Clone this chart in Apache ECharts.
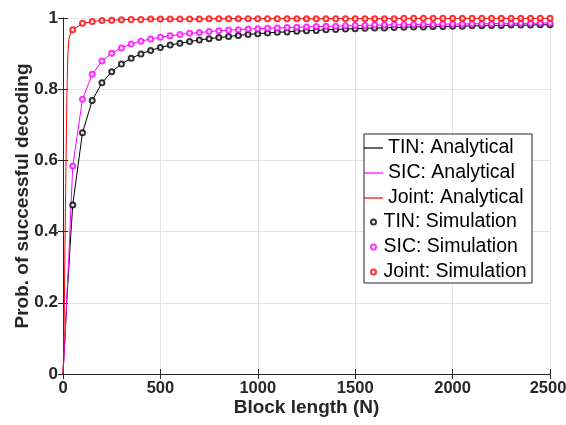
<!DOCTYPE html>
<html>
<head>
<meta charset="utf-8">
<script src="https://cdn.jsdelivr.net/npm/echarts@6/dist/echarts.min.js"></script>
<style>
html, body { margin: 0; padding: 0; background: #fff; }
#chart { width: 566px; height: 425px; }
</style>
</head>
<body>
<div id="chart"></div>
<script>
// block lengths of the simulation points
var simN = [50, 100, 150, 200, 250, 300, 350, 400, 450, 500,
	550, 600, 650, 700, 750, 800, 850, 900, 950, 1000,
	1050, 1100, 1150, 1200, 1250, 1300, 1350, 1400, 1450, 1500,
	1550, 1600, 1650, 1700, 1750, 1800, 1850, 1900, 1950, 2000,
	2050, 2100, 2150, 2200, 2250, 2300, 2350, 2400, 2450, 2500];
var tinSim = [0.475, 0.678, 0.768, 0.818, 0.849, 0.871, 0.887, 0.899, 0.909, 0.917,
	0.924, 0.929, 0.934, 0.938, 0.942, 0.945, 0.948, 0.951, 0.954, 0.956,
	0.958, 0.960, 0.961, 0.963, 0.964, 0.965, 0.967, 0.968, 0.969, 0.970,
	0.971, 0.972, 0.972, 0.973, 0.974, 0.975, 0.975, 0.976, 0.976, 0.977,
	0.977, 0.978, 0.978, 0.979, 0.979, 0.980, 0.980, 0.980, 0.981, 0.981];
var sicSim = [0.584, 0.772, 0.842, 0.879, 0.901, 0.916, 0.927, 0.935, 0.941, 0.946,
	0.950, 0.954, 0.957, 0.959, 0.962, 0.964, 0.966, 0.967, 0.969, 0.970,
	0.971, 0.972, 0.973, 0.974, 0.975, 0.976, 0.977, 0.977, 0.978, 0.979,
	0.979, 0.980, 0.980, 0.981, 0.981, 0.982, 0.982, 0.982, 0.983, 0.983,
	0.983, 0.984, 0.984, 0.984, 0.985, 0.985, 0.985, 0.985, 0.986, 0.986];
var jointSim = [0.967, 0.985, 0.990, 0.993, 0.994, 0.995, 0.996, 0.996, 0.997, 0.997,
	0.997, 0.997, 0.997, 0.997, 0.998, 0.998, 0.998, 0.998, 0.998, 0.998,
	0.998, 0.998, 0.998, 0.998, 0.998, 0.998, 0.998, 0.998, 0.998, 0.998,
	0.998, 0.998, 0.998, 0.998, 0.999, 0.999, 0.999, 0.999, 0.999, 0.999,
	0.999, 0.999, 0.999, 0.999, 0.999, 0.999, 0.999, 0.999, 0.999, 0.999];
// extra analytical points near the origin
var headN = [0, 5, 10, 15, 20, 25, 30, 40];
var tinHead = [0, 0.05, 0.10, 0.155, 0.21, 0.255, 0.30, 0.39];
var sicHead = [0, 0.05, 0.10, 0.16, 0.22, 0.275, 0.33, 0.46];
var jointHead = [0, 0.10, 0.35, 0.58, 0.78, 0.90, 0.94, 0.96];

var xTicks = [0, 500, 1000, 1500, 2000, 2500];
var yTicks = [0, 0.2, 0.4, 0.6, 0.8, 1];

var FONT = 'Liberation Sans, Arial, Helvetica, sans-serif';
var AXIS_COLOR = '#262626';
var LINE_ICON = 'path://M0,0H19V1.2H0Z';

function pairs(xs, ys) {
	var out = [];
	for (var i = 0; i < xs.length; i++) {
		out.push([xs[i], ys[i]]);
	}
	return out;
}
function analytical(head, sim) {
	return pairs(headN, head).concat(pairs(simN, sim));
}

var myChart = echarts.init(document.getElementById('chart'), null, { renderer: 'canvas' });

var lineSeries = function(name, color, data) {
	return {
		name: name,
		type: 'line',
		data: data,
		symbol: 'none',
		lineStyle: { color: color, width: 1 },
		itemStyle: { color: color },
		animation: false,
		z: 2
	};
};
var simSeries = function(name, color, data) {
	return {
		name: name,
		type: 'scatter',
		data: data,
		symbol: 'emptyCircle',
		symbolSize: 5,
		itemStyle: { color: color, borderColor: color, borderWidth: 1 },
		animation: false,
		z: 3
	};
};

var axisLine = { show: true, lineStyle: { color: AXIS_COLOR, width: 1 } };
var axisTick = { show: true, inside: true, length: 5, lineStyle: { color: AXIS_COLOR } };
var nameStyle = { fontFamily: FONT, fontSize: 19, fontWeight: 'bold', color: AXIS_COLOR };
var legendText = { fontFamily: FONT, fontSize: 19.5, color: '#000', lineHeight: 20 };

var option = {
	backgroundColor: '#ffffff',
	animation: false,
	grid: {
		left: 63,
		right: 16,
		top: 18,
		bottom: 51,
		show: false,
		containLabel: false,
		outerBoundsMode: 'none'
	},
	graphic: [{
		type: 'rect',
		shape: { x: 364, y: 134, width: 168, height: 149 },
		style: { fill: '#ffffff', stroke: AXIS_COLOR, lineWidth: 1 },
		z: 3
	}],
	legend: [{
		orient: 'vertical',
		left: 364,
		top: 138,
		itemWidth: 19,
		itemHeight: 10,
		itemGap: 5,
		selectedMode: false,
		padding: 0,
		textStyle: legendText,
		data: [
			{ name: 'TIN: Analytical', icon: LINE_ICON },
			{ name: 'SIC: Analytical', icon: LINE_ICON },
			{ name: 'Joint: Analytical', icon: LINE_ICON }
		],
		z: 5
	}, {
		orient: 'vertical',
		left: 370,
		top: 212,
		itemWidth: 10,
		itemHeight: 5,
		itemGap: 5,
		selectedMode: false,
		padding: 0,
		icon: 'emptyCircle',
		textStyle: legendText,
		data: ['TIN: Simulation', 'SIC: Simulation', 'Joint: Simulation'],
		z: 5
	}],
	xAxis: [{
		type: 'value',
		min: xTicks[0],
		max: xTicks[xTicks.length - 1],
		interval: 500,
		name: 'Block length (N)',
		nameLocation: 'middle',
		nameGap: 24,
		nameMoveOverlap: false,
		nameTextStyle: nameStyle,
		axisLine: axisLine,
		axisTick: axisTick,
		axisLabel: {
			fontFamily: FONT, fontSize: 16.5, fontWeight: 'bold', color: AXIS_COLOR, margin: 6,
			formatter: function(v) {
				// keep the last label inside the canvas
				if (v === xTicks[xTicks.length - 1]) {
					return '{e|' + v + '}';
				}
				return String(v);
			},
			rich: {
				e: { fontFamily: FONT, fontSize: 16.5, fontWeight: 'bold', color: AXIS_COLOR, padding: [0, 4, 0, 0] }
			}
		},
		splitLine: { show: true, lineStyle: { color: '#e3e3e3', width: 1 } }
	}, {
		type: 'value',
		position: 'top',
		min: xTicks[0],
		max: xTicks[xTicks.length - 1],
		interval: 500,
		axisLine: axisLine,
		axisTick: axisTick,
		axisLabel: { show: false },
		splitLine: { show: false }
	}],
	yAxis: [{
		type: 'value',
		min: yTicks[0],
		max: yTicks[yTicks.length - 1],
		interval: 0.2,
		name: 'Prob. of successful decoding',
		nameLocation: 'middle',
		nameGap: 31,
		nameMoveOverlap: false,
		nameTextStyle: nameStyle,
		axisLine: axisLine,
		axisTick: axisTick,
		axisLabel: {
			fontFamily: FONT, fontSize: 17, fontWeight: 'bold', color: AXIS_COLOR, margin: 5,
			formatter: function(v) { return String(v); }
		},
		splitLine: { show: true, lineStyle: { color: '#e3e3e3', width: 1 } }
	}, {
		type: 'value',
		position: 'right',
		min: yTicks[0],
		max: yTicks[yTicks.length - 1],
		interval: 0.2,
		axisLine: axisLine,
		axisTick: axisTick,
		axisLabel: { show: false },
		splitLine: { show: false }
	}],
	series: [
		lineSeries('TIN: Analytical', '#000000', analytical(tinHead, tinSim)),
		lineSeries('SIC: Analytical', '#ff00ff', analytical(sicHead, sicSim)),
		lineSeries('Joint: Analytical', '#ff0000', analytical(jointHead, jointSim)),
		simSeries('TIN: Simulation', '#000000', pairs(simN, tinSim)),
		simSeries('SIC: Simulation', '#ff00ff', pairs(simN, sicSim)),
		simSeries('Joint: Simulation', '#ff0000', pairs(simN, jointSim))
	]
};
myChart.setOption(option);
window.onresize = myChart.resize;
</script>
</body>
</html>
